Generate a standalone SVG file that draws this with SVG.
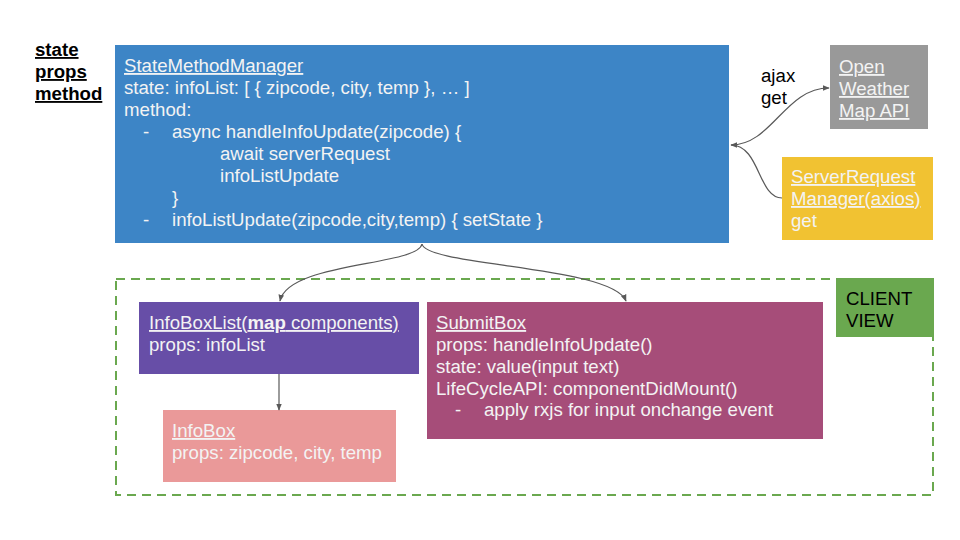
<svg xmlns="http://www.w3.org/2000/svg" width="960" height="540" viewBox="0 0 960 540">
<defs>
<style>
text{font-family:"Liberation Sans",Arial,sans-serif;font-size:18.65px}
.w{fill:#f3f3f3}
.k{fill:#000}
.u{text-decoration:underline}
.b{font-weight:bold}
.conn{fill:none;stroke:#595959;stroke-width:1.2}
</style>
<marker id="ah" viewBox="0 0 10 10" refX="9" refY="5" markerWidth="7" markerHeight="7" orient="auto-start-reverse" markerUnits="userSpaceOnUse">
<path d="M0,1 L10,5 L0,9 z" fill="#595959"/>
</marker>
</defs>
<rect width="960" height="540" fill="#fff"/>

<g id="legend">
<text class="k b u" x="35" y="56">state</text>
<text class="k b u" x="35" y="78">props</text>
<text class="k b u" x="35" y="100">method</text>
</g>

<g id="client-view-frame">
<rect x="116" y="279" width="817" height="216" fill="none" stroke="#6aa84f" stroke-width="2" stroke-dasharray="9,6"/>
</g>

<g id="state-method-manager">
<rect x="115" y="45" width="614" height="198" fill="#3d85c6"/>
<text class="w u" x="124" y="72">StateMethodManager</text>
<text class="w" x="124" y="94">state: infoList: [ { zipcode, city, temp }, … ]</text>
<text class="w" x="124" y="116">method:</text>
<text class="w" x="143" y="138">-</text>
<text class="w" x="172" y="138">async handleInfoUpdate(zipcode) {</text>
<text class="w" x="220" y="160">await serverRequest</text>
<text class="w" x="220" y="182">infoListUpdate</text>
<text class="w" x="172" y="204">}</text>
<text class="w" x="143" y="226">-</text>
<text class="w" x="172" y="226">infoListUpdate(zipcode,city,temp) { setState }</text>
</g>

<g id="open-weather">
<rect x="830" y="45" width="98" height="84" fill="#999999"/>
<text class="w u" x="839" y="73">Open</text>
<text class="w u" x="839" y="95">Weather</text>
<text class="w u" x="839" y="117">Map API</text>
</g>

<g id="server-request-manager">
<rect x="782" y="157" width="151" height="83" fill="#f1c232"/>
<text class="w u" x="791" y="183">ServerRequest</text>
<text class="w u" x="791" y="205">Manager(axios)</text>
<text class="w" x="791" y="227">get</text>
</g>

<g id="client-view-label">
<rect x="836" y="278" width="98" height="59" fill="#6aa84f"/>
<text class="k" x="846" y="305">CLIENT</text>
<text class="k" x="846" y="327">VIEW</text>
</g>

<g id="info-box-list">
<rect x="139" y="302" width="280" height="72" fill="#674ea7"/>
<text class="w u" x="149" y="329">InfoBoxList(<tspan class="b">map</tspan> components)</text>
<text class="w" x="149" y="351">props: infoList</text>
</g>

<g id="info-box">
<rect x="163" y="410" width="233" height="72" fill="#ea9999"/>
<text class="w u" x="172" y="437">InfoBox</text>
<text class="w" x="172" y="459">props: zipcode, city, temp</text>
</g>

<g id="submit-box">
<rect x="427" y="302" width="396" height="137" fill="#a64d79"/>
<text class="w u" x="436" y="329">SubmitBox</text>
<text class="w" x="436" y="351">props: handleInfoUpdate()</text>
<text class="w" x="436" y="373">state: value(input text)</text>
<text class="w" x="436" y="395">LifeCycleAPI: componentDidMount()</text>
<text class="w" x="455" y="416">-</text>
<text class="w" x="484" y="416">apply rxjs for input onchange event</text>
</g>

<g id="connectors">
<path class="conn" d="M731,145 C772,145 785,88 829,88" marker-start="url(#ah)" marker-end="url(#ah)"/>
<path class="conn" d="M782,198 C758,198 760,145 731,145"/>
<path class="conn" d="M422,244 C418,266 288,262 280,301" marker-end="url(#ah)"/>
<path class="conn" d="M422,244 C426,266 612,266 626,301" marker-end="url(#ah)"/>
<path class="conn" d="M279,374 L279,410" marker-end="url(#ah)"/>
<text class="k" x="761" y="82">ajax</text>
<text class="k" x="761" y="104">get</text>
</g>
</svg>
